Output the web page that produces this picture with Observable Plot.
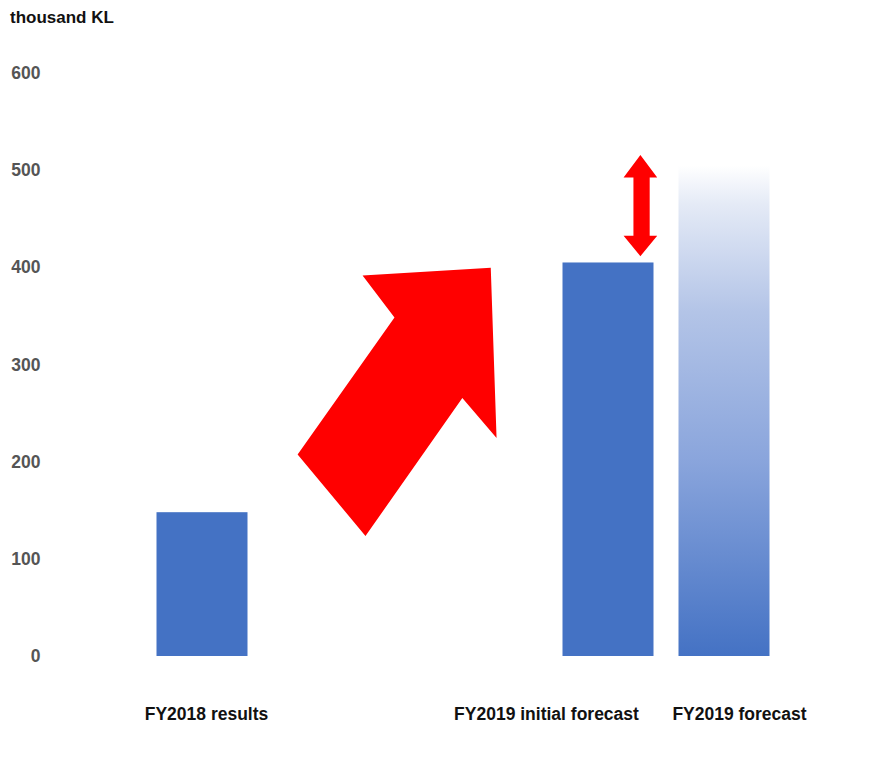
<!DOCTYPE html>
<html><head><meta charset="utf-8">
<script src="https://cdn.jsdelivr.net/npm/d3@7"></script>
<script src="https://cdn.jsdelivr.net/npm/@observablehq/plot@0.6"></script>
<style>
body{margin:0;background:#fff;}
#wrap{position:relative;width:881px;height:763px;}
#wrap svg{position:absolute;left:0;top:0;}
#title{position:absolute;left:10px;top:7px;font-family:"Liberation Sans",Arial,sans-serif;font-weight:bold;font-size:17px;line-height:22px;color:#111;z-index:3;}
</style></head>
<body>
<svg width="0" height="0" style="position:absolute">
  <defs>
    <linearGradient id="fadeBlue" x1="0" y1="0" x2="0" y2="1">
      <stop offset="0" stop-color="#ffffff"/>
      <stop offset="0.08" stop-color="#e4eaf6"/>
      <stop offset="0.3" stop-color="#b3c4e7"/>
      <stop offset="0.6" stop-color="#8aa5dc"/>
      <stop offset="1" stop-color="#4472c4"/>
    </linearGradient>
  </defs>
</svg>
<div id="wrap"><div id="title">thousand KL</div></div>
<script>
// ---- data ----
const categories = ["FY2018 results", "FY2019 initial forecast", "FY2019 forecast"];
const values = [148, 405, 505];
const yTicks = [0, 100, 200, 300, 400, 500, 600];
// x slots (band domain): spacers keep the gap between FY2018 and FY2019 bars
const slotDomain = ["FY2018 results", "_1", "_2", "_3", "_4", "_5", "_6", "FY2019 initial forecast", "_7", "FY2019 forecast"];
// annotation shapes, in data units (x: slot units 0..10, y: thousand KL)
const bigArrowX = [3.26, 5.47, 5.57, 4.98, 3.31, 2.14, 3.81];
const bigArrowY = [392, 400, 225, 266, 124, 208, 349];
const dblArrowX = [8.05, 8.34, 8.21, 8.21, 8.34, 8.05, 7.76, 7.93, 7.93, 7.76];
const dblArrowY = [516, 493, 493, 433, 433, 412, 433, 433, 493, 493];

const rows = categories.map((c, i) => ({category: c, value: values[i]}));
const bigArrow = bigArrowX.map((x, i) => ({x, y: bigArrowY[i]}));
const dblArrow = dblArrowX.map((x, i) => ({x, y: dblArrowY[i]}));

const FONT = '"Liberation Sans",Arial,sans-serif';
const dims = {width: 881, height: 763, marginTop: 73, marginBottom: 107, marginLeft: 173, marginRight: 128};

const main = Plot.plot({
  ...dims,
  style: {fontFamily: FONT, fontSize: "17.5px", fontWeight: "bold", background: "transparent", color: "#111", overflow: "visible"},
  x: {type: "band", domain: slotDomain, padding: 0, axis: null},
  y: {domain: [0, 600], axis: null},
  marks: [
    Plot.barY(rows.filter(d => d.category !== "FY2019 forecast"), {x: "category", y: "value", fill: "#4472C4", insetLeft: -16.5, insetRight: -16.5}),
    Plot.barY(rows.filter(d => d.category === "FY2019 forecast"), {x: "category", y: "value", fill: "url(#fadeBlue)", insetLeft: -16.5, insetRight: -16.5}),
    Plot.axisY({ticks: yTicks, tickSize: 0, tickPadding: 133, label: null, color: "#555"}),
    Plot.axisX({ticks: [categories[0]], tickSize: 0, tickPadding: 51, dx: 4, label: null, color: "#111"}),
    Plot.axisX({ticks: [categories[1]], tickSize: 0, tickPadding: 51, dx: -62, label: null, color: "#111"}),
    Plot.axisX({ticks: [categories[2]], tickSize: 0, tickPadding: 51, dx: 15, label: null, color: "#111"})
  ]
});

const overlay = Plot.plot({
  ...dims,
  style: {background: "transparent", overflow: "visible", pointerEvents: "none"},
  x: {type: "linear", domain: [0, 10], axis: null},
  y: {domain: [0, 600], axis: null},
  marks: [
    Plot.line(bigArrow, {x: "x", y: "y", fill: "#FF0000", stroke: "none", curve: "linear-closed"}),
    Plot.line(dblArrow, {x: "x", y: "y", fill: "#FF0000", stroke: "none", curve: "linear-closed"})
  ]
});

const wrap = document.getElementById("wrap");
wrap.appendChild(main);
wrap.appendChild(overlay);
</script>
</body></html>
